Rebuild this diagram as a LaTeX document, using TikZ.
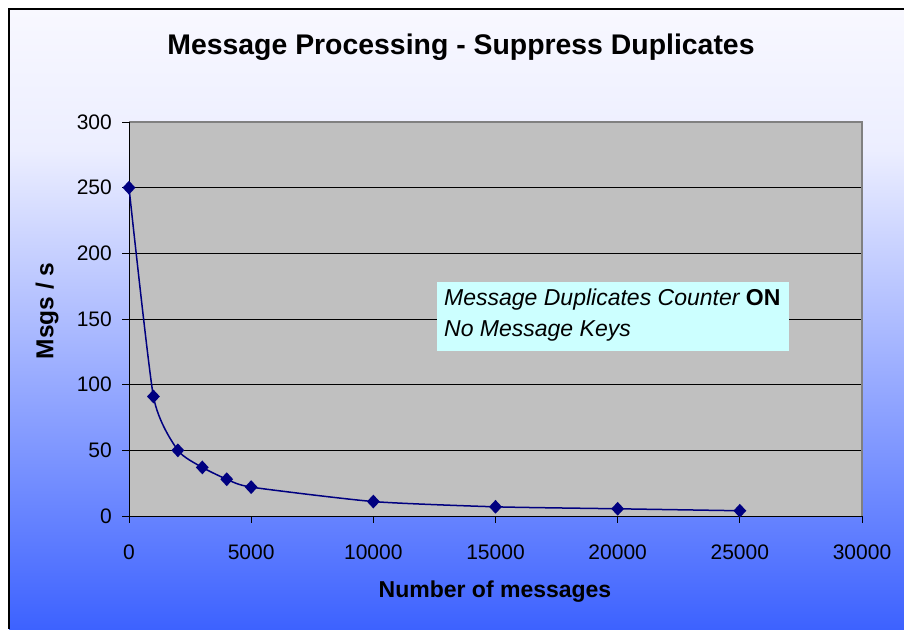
\documentclass[tikz,border=0pt]{standalone}
\usepackage{fontspec}
\setmainfont{Liberation Sans}
\usetikzlibrary{shapes.geometric}
\definecolor{bgtop}{HTML}{F8F8FF}
\definecolor{bgmid}{HTML}{ECEEFF}
\definecolor{bgbot}{HTML}{3D62FF}
\definecolor{plotgray}{HTML}{C0C0C0}
\definecolor{navy}{HTML}{000080}
\definecolor{legcyan}{HTML}{CCFFFF}
\definecolor{framegray}{HTML}{808080}
\begin{document}
\begin{tikzpicture}[x=1pt,y=-1pt,
  ticklab/.style={font=\fontsize{21}{25}\selectfont, inner sep=0pt},
  axtitle/.style={font=\fontsize{23}{27}\selectfont\bfseries, inner sep=0pt},
  marker/.style={diamond, fill=navy, inner sep=0pt, minimum width=13pt, minimum height=14pt},
  grid line/.style={black, line width=0.8pt},
  axis line/.style={black, line width=1pt},
  curve/.style={navy, line width=1.5pt, smooth, tension=0.35},
  legendbox/.style={fill=legcyan, inner sep=0pt, minimum width=352pt, minimum height=69pt, anchor=north west},
  legendtext/.style={font=\fontsize{23}{31}\selectfont\itshape, align=left, inner sep=0pt, anchor=north west}]
\useasboundingbox (0,0) rectangle (904,629);
\fill[white] (0,0) rectangle (904,629);
% background gradient
\shade[top color=bgtop, bottom color=bgmid] (9,9) rectangle (904,150);
\shade[top color=bgmid, bottom color=bgbot] (9,150) rectangle (904,629);
\draw[black, line width=1.5pt] (9,629) -- (9,9) -- (904,9);
% plot area
\fill[plotgray] (129,122) rectangle (862,516);
\foreach \v in {50,100,150,200,250} {
  \draw[grid line] (129,{516-\v*1.313333}) -- (862,{516-\v*1.313333});
}
\draw[framegray, line width=1.5pt] (129,122) -- (862,122) -- (862,516);
\draw[axis line] (129,516) -- (129,122);
\draw[axis line] (129,516) -- (862,516);
\foreach \v in {0,50,...,300} {
  \draw[axis line] (122,{516-\v*1.313333}) -- (129,{516-\v*1.313333});
  \node[ticklab, anchor=east] (yl\v) at (112,{516-\v*1.313333}) {\v};
}
\foreach \k/\lab in {0/0,5/5000,10/10000,15/15000,20/20000,25/25000,30/30000} {
  \draw[axis line] ({129+\k*24.4333},516) -- ({129+\k*24.4333},523);
  \node[ticklab] (xl\k) at ({129+\k*24.4333},552) {\lab};
}
% data (x in thousands of messages)
\begin{scope}[shift={(129pt,-516pt)}, x=24.4333pt, y=1.313333pt]
  \coordinate (p1) at (0,250);
  \coordinate (p2) at (1,91);
  \coordinate (p3) at (2,50);
  \coordinate (p4) at (3,37);
  \coordinate (p5) at (4,28);
  \coordinate (p6) at (5,22);
  \coordinate (p7) at (10,11);
  \coordinate (p8) at (15,7);
  \coordinate (p9) at (20,5.5);
  \coordinate (p10) at (25,4);
  \draw[curve] plot coordinates {(p1) (p2) (p3) (p4) (p5) (p6) (p7) (p8) (p9) (p10)};
  \foreach \i in {1,...,10} { \node[marker] (m\i) at (p\i) {}; }
\end{scope}
% legend
\node[legendbox] (leg) at (437,282) {};
\node[legendtext] (legtxt) at (444,289) {Message Duplicates Counter {\upshape\bfseries ON}\\No Message Keys};
% titles
\node[font=\fontsize{28.4}{33}\selectfont\bfseries, inner sep=0pt] (title) at (461,47) {Message Processing - Suppress Duplicates};
\node[axtitle] (xtitle) at (495,592) {Number of messages};
\node[axtitle, font=\fontsize{24.5}{28}\selectfont\bfseries, rotate=90] (ytitle) at (47,311) {Msgs / s};
\end{tikzpicture}
\end{document}
